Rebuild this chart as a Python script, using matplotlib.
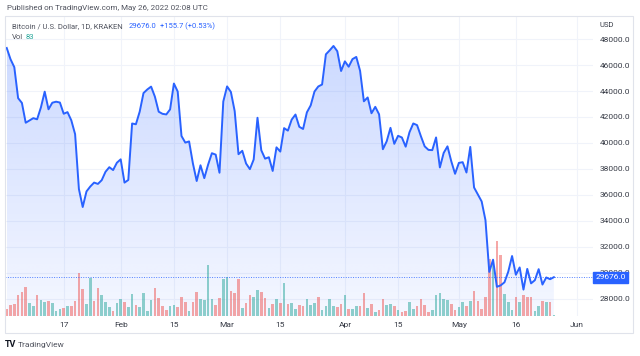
import numpy as np
import pandas as pd
import matplotlib.pyplot as plt
import matplotlib.dates as mdates
import matplotlib.transforms as mtransforms
from matplotlib.colors import to_rgb
from matplotlib.patches import Rectangle

plt.rcParams["font.family"] = ["Roboto", "DejaVu Sans"]

# daily closes, Kraken BTC/USD, starting 2022-01-02
START = "2022-01-02"
CLOSE = [
    47311, 46446, 45832, 43451, 43082, 41558, 41733, 41912, 41822, 42736,
    43950, 42592, 43099, 43177, 43113, 42250, 42375, 41744, 40680, 36458,
    35075, 36276, 36654, 36954, 36852, 37138, 37784, 38138, 37917, 38483,
    38743, 36952, 37154, 41500, 41441, 42412, 43841, 44118, 44338, 43565,
    42407, 42244, 42197, 42586, 44575, 43961, 40538, 40030, 40122, 38431,
    37075, 38286, 37296, 38332, 39214, 39105, 37710, 43194, 44354, 43924,
    42451, 39137, 39400, 38420, 37988, 38730, 41941, 39439, 38794, 38904,
    37849, 39666, 39338, 41143, 40951, 41801, 42190, 41247, 41077, 42358,
    42892, 43960, 44348, 44500, 46820, 47128, 47465, 47062, 45538, 46281,
    45868, 46453, 46622, 45555, 43206, 43503, 42287, 42782, 42207, 39521,
    40127, 41166, 39935, 40553, 40424, 39716, 40826, 41503, 41374, 40527,
    39741, 39469, 39450, 40427, 38118, 39236, 39742, 38596, 37630, 38468,
    38525, 37729, 39698, 36576, 36041, 35502, 34059, 30080, 31022, 28936,
    29047, 29283, 30101, 31305, 29862, 30425, 28720, 30314, 29201, 29445,
    30293, 29109, 29655, 29520, 29676,
]
VOLUME = [
    1070, 1760, 1870, 3310, 3840, 4690, 2030, 1650, 3360, 2610,
    2240, 2350, 2130, 800, 1070, 1330, 1550, 1550, 2450, 6930,
    4270, 1970, 6080, 2450, 4480, 3360, 2190, 1440, 850, 2030,
    2670, 2190, 1440, 3470, 1760, 1440, 3680, 850, 2510, 4430,
    2880, 1600, 960, 1600, 1760, 1440, 2990, 2290, 750, 2240,
    3790, 2770, 2610, 8110, 2670, 1760, 2830, 5970, 6190, 3950,
    3630, 5920, 1280, 2080, 3410, 2990, 4160, 3790, 2880, 1280,
    1920, 2770, 2030, 5330, 1920, 2030, 1070, 1710, 1600, 2670,
    1760, 2080, 2990, 910, 1550, 2770, 1600, 1490, 1870, 3410,
    1170, 1070, 1600, 1600, 3680, 1280, 1870, 590, 960, 2670,
    1760, 1970, 1600, 960, 590, 800, 2190, 1170, 1600, 2670,
    1810, 590, 910, 3410, 3630, 2770, 2610, 1970, 960, 1390,
    2190, 1600, 2450, 4050, 2350, 1070, 2990, 9120, 8750, 11950,
    9710, 3470, 2240, 910, 2990, 2240, 3360, 2990, 3040, 850,
    1600, 2450, 2190, 2240, 83,
]
# G = up day, R = down day
VOL_DIR = (
    "RRRRRRGGRG" "GRGGGRGRRR" "RGGRRGGGRG" "GRGGRGGGGR" "RRRGGRRRGR"
    "RGGGGRR" "GGRRRGRRGG" "RRGRGRGRGG" "RRGGGRGGGG" "RRGRGGRRGR"
    "GRRGGRGRRG" "GRRRRGGGGG" "RRGGRGRRRR" "RGRRGGGRGR" "RRGGRGRG"
)

LAST = 29676.0
CHANGE = 155.7
CHANGE_PCT = 0.53

PRICE_TICKS = list(range(28000, 48001, 2000))
DATE_TICKS = ["2022-01-17", "2022-02-01", "2022-02-15", "2022-03-01", "2022-03-15",
              "2022-04-01", "2022-04-15", "2022-05-01", "2022-05-16", "2022-06-01"]
DATE_LABELS = ["17", "Feb", "15", "Mar", "15", "Apr", "15", "May", "16", "Jun"]

BLUE = "#2962ff"
UP = "#26a69a"
DOWN = "#ef5350"
GRID = "#f0f3fa"
TEXT = "#363a45"

W, H = 640, 356

dates = pd.date_range(START, periods=len(CLOSE), freq="D")
x = mdates.date2num(dates)
close = np.array(CLOSE, dtype=float)

fig = plt.figure(figsize=(W / 100, H / 100), dpi=100)
fig.patch.set_facecolor("white")

ax = fig.add_axes([5 / W, 40 / H, 588 / W, 300 / H])
ax.set_autoscale_on(False)
ax.set_xlim(x[0] - 0.45, x[0] + 154.3)
ax.set_ylim(26690, 49770)
for s in ax.spines.values():
    s.set_visible(False)

# grid
ax.set_yticks(PRICE_TICKS)
ax.set_xticks(mdates.date2num(pd.to_datetime(DATE_TICKS)))
ax.set_xticklabels(DATE_LABELS)
ax.yaxis.set_major_formatter(lambda v, p: f"{v:.1f}")
ax.grid(True, color=GRID, lw=0.8, zorder=0)
ax.set_axisbelow(True)
ax.tick_params(axis="y", left=False, labelleft=False, right=False, labelright=True,
               length=0, pad=5, labelsize=6, labelcolor=TEXT)
ax.tick_params(axis="x", length=0, pad=4, labelsize=6, labelcolor=TEXT)

# gradient area under the line
ylo = ax.get_ylim()[0]
n = 256
rgba = np.zeros((n, 1, 4))
rgba[..., :3] = to_rgb(BLUE)
rgba[:, 0, 3] = np.linspace(0.05, 0.24, n)
im = ax.imshow(rgba, extent=[x[0], x[-1], ylo, close.max()], origin="lower",
               aspect="auto", zorder=1, interpolation="bilinear")
poly = ax.fill_between(x, close, ylo, color="none", lw=0)
im.set_clip_path(poly.get_paths()[0], transform=ax.transData)

# volume bars on their own scale in the lower part of the pane
VOL_MAX = 48000
vol_trans = mtransforms.blended_transform_factory(
    ax.transData, mtransforms.Affine2D().scale(1, 1 / VOL_MAX) + ax.transAxes)
bar_colors = [UP if d == "G" else DOWN for d in VOL_DIR]
ax.bar(x, VOLUME, width=0.7, color=bar_colors, alpha=0.5, lw=0,
       transform=vol_trans, zorder=2)

# price line + last price
ax.plot(x, close, color=BLUE, lw=1.4, zorder=4, solid_joinstyle="round")
ax.axhline(LAST, color=BLUE, lw=0.7, ls=(0, (1, 1.5)), alpha=0.8, zorder=3)
ax.text(1.004, LAST, f"{LAST:.1f}", transform=ax.get_yaxis_transform(),
        ha="left", va="center", fontsize=6, color="white", zorder=10, clip_on=False,
        bbox=dict(boxstyle="square,pad=0.32", fc=BLUE, ec=BLUE))

# widget frame
fig.patches.append(Rectangle((5 / W, (H - 333) / H), 628 / W, 317 / H,
                             transform=fig.transFigure, fill=False,
                             ec="#e0e3eb", lw=0.8))

# header texts
fig.text(7 / W, 1 - 8.3 / H, "Published on TradingView.com, May 26, 2022 02:08 UTC",
         fontsize=5.8, color="#50535e", va="center")
fig.text(12 / W, 1 - 25.7 / H, "Bitcoin / U.S. Dollar, 1D, KRAKEN",
         fontsize=5.5, color="#50535e", va="center")
fig.text(129 / W, 1 - 25.7 / H, f"{LAST:.1f}", fontsize=5.5, color=BLUE, va="center")
fig.text(160 / W, 1 - 25.7 / H, f"+{CHANGE} (+{CHANGE_PCT:.2f}%)",
         fontsize=5.5, color=BLUE, va="center")
fig.text(12 / W, 1 - 36.7 / H, "Vol", fontsize=5.5, color="#50535e", va="center")
fig.text(26 / W, 1 - 36.7 / H, f"{VOLUME[-1]}", fontsize=5.5, color=UP, va="center")
fig.text(600 / W, 1 - 25 / H, "USD", fontsize=5.5, color=TEXT, va="center")

# footer logo
fig.text(5 / W, 1 - 344.5 / H, "TV", fontsize=6.5, fontweight="bold",
         color="#131722", va="center")
fig.text(18 / W, 1 - 344.5 / H, "TradingView", fontsize=6, color="#50535e", va="center")

fig.savefig("out.png", dpi=100)
